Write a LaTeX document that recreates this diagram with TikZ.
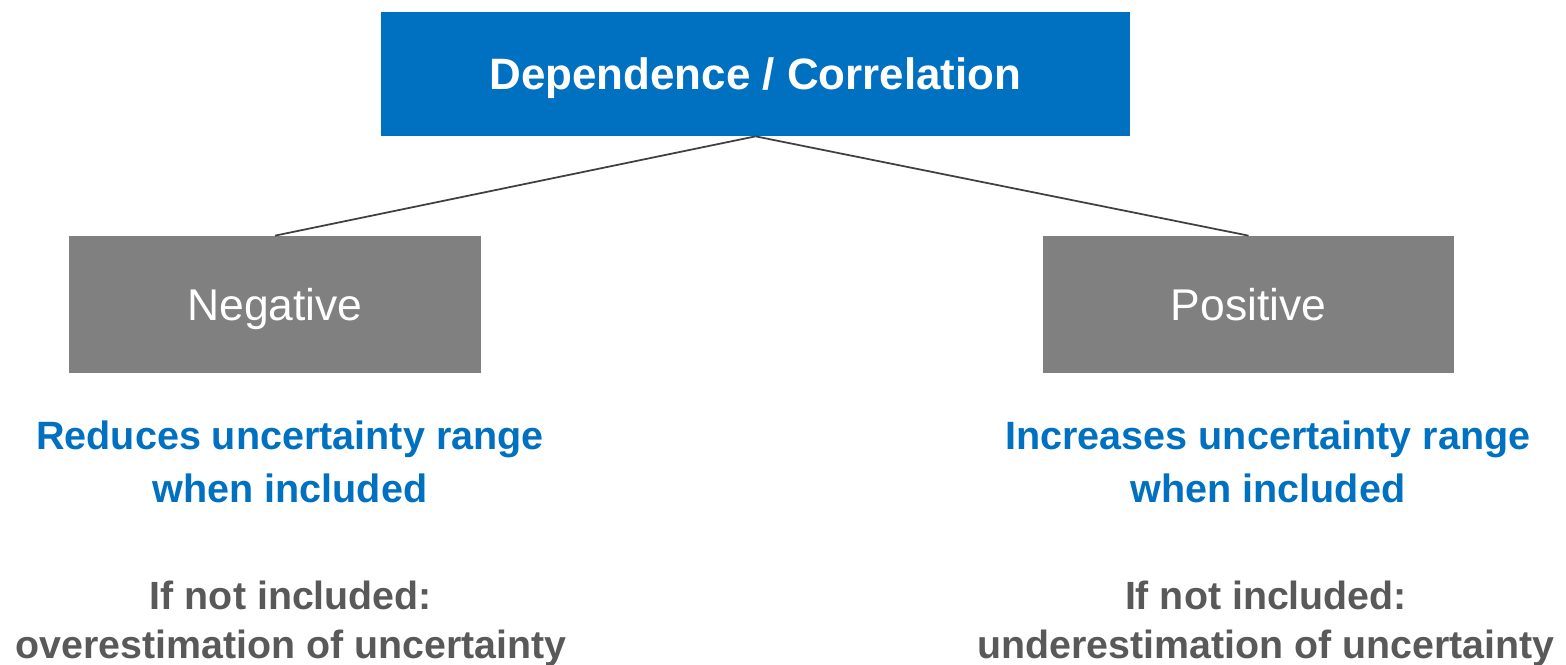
\documentclass[tikz,border=0pt]{standalone}
\usepackage{fontspec}
\setmainfont{Liberation Sans}
\usetikzlibrary{positioning}
\definecolor{corrblue}{HTML}{0070C0}
\definecolor{boxgray}{HTML}{808080}
\definecolor{textgray}{HTML}{595959}
\definecolor{linegray}{HTML}{404040}
\begin{document}
\begin{tikzpicture}[
  x=0.02cm, y=-0.02cm,
  topbox/.style={fill=corrblue, text=white, inner sep=0pt, minimum width=14.98cm, minimum height=2.48cm, text height=18pt, text depth=0pt, font=\fontsize{25}{30}\selectfont\bfseries},
  signbox/.style={fill=boxgray, text=white, inner sep=0pt, minimum width=8.24cm, minimum height=2.74cm, text height=18.2pt, text depth=0pt, font=\fontsize{25.3}{30}\selectfont},
  effect/.style={text=corrblue, align=center, inner sep=0pt, font=\fontsize{22.5}{30}\selectfont\bfseries},
  missing/.style={text=textgray, align=center, inner sep=0pt, font=\fontsize{22.4}{27.8}\selectfont\bfseries},
  link/.style={draw=linegray, line width=1pt}
]
\useasboundingbox (0,0) rectangle (1566,665);

\node[topbox] (dep) at (755.5,74) {Dependence / Correlation};
\node[signbox] (neg) at (275,304.5) {Negative};
\node[signbox, right=11.22cm of neg] (pos) {Positive};

\draw[link] (dep.south) -- (neg.north);
\draw[link] (dep.south) -- (pos.north);

\node[effect] (negeff) at (290,462) {Reduces uncertainty range\\when included};
\node[effect] (poseff) at (1268,462) {Increases uncertainty range\\when included};
\node[missing] (negmiss) at (291,624) {If not included:\\overestimation of uncertainty};
\node[missing] (posmiss) at (1266,624) {If not included:\\underestimation of uncertainty};
\end{tikzpicture}
\end{document}
